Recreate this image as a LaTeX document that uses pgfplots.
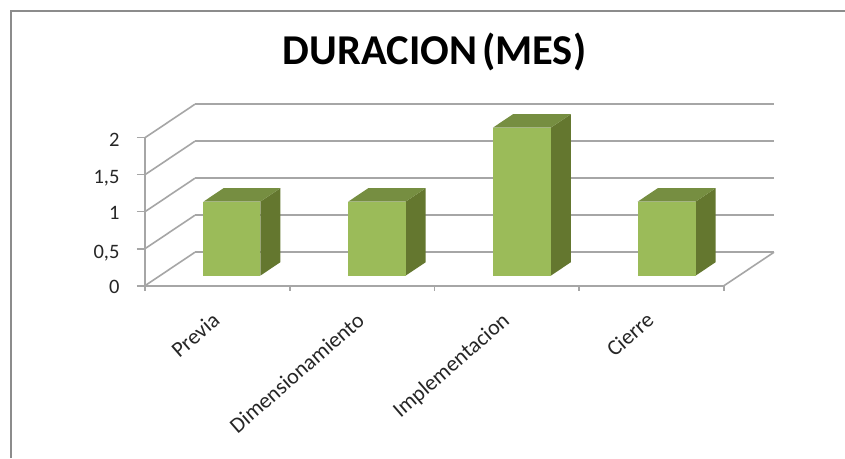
\documentclass[border=0pt]{standalone}
\usepackage{pgfplots}
\pgfplotsset{compat=1.18}
\usepackage{fontspec}
\setmainfont{Carlito}
\definecolor{front}{HTML}{9BBB59}
\definecolor{sidef}{HTML}{64772F}
\definecolor{topf}{HTML}{768E41}
\definecolor{gridc}{HTML}{A6A6A6}
\definecolor{framec}{HTML}{8C8C8C}
\definecolor{labelc}{HTML}{262626}
\begin{document}
\begin{tikzpicture}
\useasboundingbox (0,0) rectangle (845pt,458pt);
\fill[white] (0,0) rectangle (845pt,458pt);
\draw[framec,line width=2pt] (11pt,0pt) -- (11pt,447pt) -- (845pt,447pt);
\node[font=\bfseries\fontsize{42.5}{46}\selectfont,text=black] at (434.5pt,406pt) {DURACION\hspace{0.12em}(MES)};
\begin{axis}[
  at={(145pt,172.3pt)}, anchor=origin,
  x={(144.75pt,0pt)}, y={(50pt,33.5pt)}, z={(0pt,74pt)},
  xmin=0,xmax=4,ymin=0,ymax=1,zmin=0,zmax=2,
  clip=false, no marks,
  axis x line*=left, axis z line*=left, axis y line=none,
  axis line style={gridc,line width=2pt,-},
  tick style={draw=none},
  tick align=outside,
  xtick=\empty,
  ytick=\empty,
  ztick={0,0.5,1,1.5,2},
  zticklabels={0,{0,5},1,{1,5},2},
  major tick length=0pt,
  ticklabel style={font=\fontsize{20.5}{22}\selectfont,text=labelc},
  z tick label style={xshift=-22pt,yshift=1pt},
  extra x ticks={0.5,1.5,2.5,3.5},
  extra x tick labels={Previa,Dimensionamiento,Implementacion,Cierre},
  extra x tick style={major tick length=0pt,
    tick label style={rotate=41,anchor=north east,font=\fontsize{22}{24}\selectfont,xshift=-18pt,yshift=-11.6pt}},
]
% walls and floor
\addplot3[gridc,line width=2pt] coordinates {(0,1,0) (4,1,0)};
\addplot3[gridc,line width=1.6pt] coordinates {(0,0,0) (0,1,0)};
\addplot3[gridc,line width=1.6pt] coordinates {(4,1,0) (4,0,0)};
\addplot3[gridc,line width=1.6pt] coordinates {(0,0,0.5) (0,1,0.5)};
\addplot3[gridc,line width=2pt] coordinates {(0,1,0.5) (4,1,0.5)};
\addplot3[gridc,line width=1.6pt] coordinates {(0,0,1) (0,1,1)};
\addplot3[gridc,line width=2pt] coordinates {(0,1,1) (4,1,1)};
\addplot3[gridc,line width=1.6pt] coordinates {(0,0,1.5) (0,1,1.5)};
\addplot3[gridc,line width=2pt] coordinates {(0,1,1.5) (4,1,1.5)};
\addplot3[gridc,line width=1.6pt] coordinates {(0,0,2) (0,1,2)};
\addplot3[gridc,line width=2pt] coordinates {(0,1,2) (4,1,2)};
% tick marks
\addplot3[gridc,line width=1.6pt] coordinates {(-0.057,0,0) (0,0,0)};
\addplot3[gridc,line width=1.6pt] coordinates {(-0.057,0,0.5) (0,0,0.5)};
\addplot3[gridc,line width=1.6pt] coordinates {(-0.057,0,1) (0,0,1)};
\addplot3[gridc,line width=1.6pt] coordinates {(-0.057,0,1.5) (0,0,1.5)};
\addplot3[gridc,line width=1.6pt] coordinates {(-0.057,0,2) (0,0,2)};
\addplot3[gridc,line width=1.6pt] coordinates {(0,0,0) (0,0,-0.07)};
\addplot3[gridc,line width=1.6pt] coordinates {(1,0,0) (1,0,-0.07)};
\addplot3[gridc,line width=1.6pt] coordinates {(2,0,0) (2,0,-0.07)};
\addplot3[gridc,line width=1.6pt] coordinates {(3,0,0) (3,0,-0.07)};
\addplot3[gridc,line width=1.6pt] coordinates {(4,0,0) (4,0,-0.07)};
% Previa = 1
\addplot3[fill=sidef,draw=none] coordinates {(0.693,0.3,0) (0.693,0.7,0) (0.693,0.7,1) (0.693,0.3,1)};
\addplot3[fill=topf,draw=none] coordinates {(0.3,0.3,1) (0.693,0.3,1) (0.693,0.7,1) (0.3,0.7,1)};
\addplot3[fill=front,draw=none] coordinates {(0.3,0.3,0) (0.693,0.3,0) (0.693,0.3,1) (0.3,0.3,1)};
% Dimensionamiento = 1
\addplot3[fill=sidef,draw=none] coordinates {(1.697,0.3,0) (1.697,0.7,0) (1.697,0.7,1) (1.697,0.3,1)};
\addplot3[fill=topf,draw=none] coordinates {(1.3,0.3,1) (1.697,0.3,1) (1.697,0.7,1) (1.3,0.7,1)};
\addplot3[fill=front,draw=none] coordinates {(1.3,0.3,0) (1.697,0.3,0) (1.697,0.3,1) (1.3,0.3,1)};
% Implementacion = 2
\addplot3[fill=sidef,draw=none] coordinates {(2.7,0.3,0) (2.7,0.7,0) (2.7,0.7,2) (2.7,0.3,2)};
\addplot3[fill=topf,draw=none] coordinates {(2.3,0.3,2) (2.7,0.3,2) (2.7,0.7,2) (2.3,0.7,2)};
\addplot3[fill=front,draw=none] coordinates {(2.3,0.3,0) (2.7,0.3,0) (2.7,0.3,2) (2.3,0.3,2)};
% Cierre = 1
\addplot3[fill=sidef,draw=none] coordinates {(3.7,0.3,0) (3.7,0.7,0) (3.7,0.7,1) (3.7,0.3,1)};
\addplot3[fill=topf,draw=none] coordinates {(3.3,0.3,1) (3.7,0.3,1) (3.7,0.7,1) (3.3,0.7,1)};
\addplot3[fill=front,draw=none] coordinates {(3.3,0.3,0) (3.7,0.3,0) (3.7,0.3,1) (3.3,0.3,1)};
\end{axis}
\end{tikzpicture}
\end{document}
